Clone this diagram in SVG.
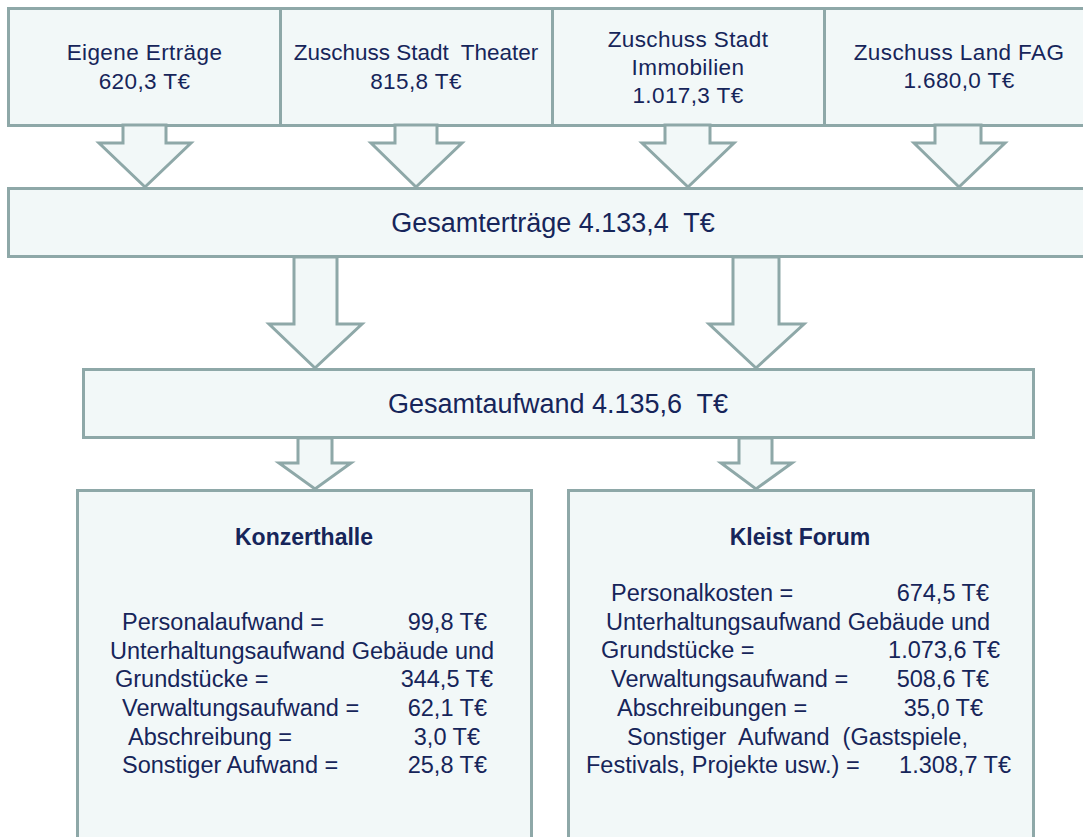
<svg xmlns="http://www.w3.org/2000/svg" width="1083" height="837" viewBox="0 0 1083 837">
<style>
.box{fill:#f2f8f8;stroke:#8ea8a8;stroke-width:3}
.arr{fill:#f2f8f8;stroke:#8ea8a8;stroke-width:3;stroke-linejoin:miter}
text{font-family:"Liberation Sans",Arial,sans-serif;fill:#16255a}
.t{font-size:22.5px;letter-spacing:0.4px;text-anchor:middle}
.n{letter-spacing:0}
.g{font-size:27px;text-anchor:middle}
.h{font-size:23px;font-weight:bold;text-anchor:middle}
.b{font-size:23.5px}
.e{text-anchor:end}
</style>
<rect width="1083" height="837" fill="#ffffff"/>
<g id="eigene">
<rect class="box" x="8.5" y="8.5" width="272" height="117"/>
<text class="t" x="144.5" y="60">Eigene Erträge</text>
<text class="t" x="144.5" y="89">620,3 T€</text>
</g>
<g id="theater">
<rect class="box" x="280.5" y="8.5" width="272" height="117"/>
<text class="t n" x="416" y="60" xml:space="preserve">Zuschuss Stadt  Theater</text>
<text class="t" x="416" y="89">815,8 T€</text>
</g>
<g id="immobilien">
<rect class="box" x="552.5" y="8.5" width="272" height="117"/>
<text class="t" x="688" y="47">Zuschuss Stadt</text>
<text class="t" x="688" y="75">Immobilien</text>
<text class="t" x="688" y="103">1.017,3 T€</text>
</g>
<g id="land">
<rect class="box" x="824.5" y="8.5" width="280" height="117"/>
<text class="t" x="959" y="60">Zuschuss Land FAG</text>
<text class="t" x="959" y="88">1.680,0 T€</text>
</g>
<g id="gesamtertraege">
<rect class="box" x="8.5" y="188.5" width="1090" height="68"/>
<text class="g" x="553" y="232" xml:space="preserve">Gesamterträge 4.133,4  T€</text>
</g>
<g id="gesamtaufwand">
<rect class="box" x="83.5" y="369.5" width="950" height="68"/>
<text class="g" x="558" y="413" xml:space="preserve">Gesamtaufwand 4.135,6  T€</text>
</g>
<g id="konzerthalle">
<rect class="box" x="77.5" y="490.5" width="454" height="360"/>
<text class="h" x="304" y="545">Konzerthalle</text>
<text class="b" x="122" y="630">Personalaufwand =</text>
<text class="b e" x="487" y="630">99,8 T€</text>
<text class="b" x="110" y="659">Unterhaltungsaufwand Gebäude und</text>
<text class="b" x="115" y="687">Grundstücke =</text>
<text class="b e" x="493" y="687">344,5 T€</text>
<text class="b" x="122" y="716">Verwaltungsaufwand =</text>
<text class="b e" x="487" y="716">62,1 T€</text>
<text class="b" x="128" y="745">Abschreibung =</text>
<text class="b e" x="480" y="745">3,0 T€</text>
<text class="b" x="122" y="773">Sonstiger Aufwand =</text>
<text class="b e" x="487" y="773">25,8 T€</text>
</g>
<g id="kleistforum">
<rect class="box" x="568.5" y="490.5" width="465" height="360"/>
<text class="h" x="800" y="545">Kleist Forum</text>
<text class="b" x="611" y="601">Personalkosten =</text>
<text class="b e" x="989" y="601">674,5 T€</text>
<text class="b" x="606" y="630">Unterhaltungsaufwand Gebäude und</text>
<text class="b" x="601" y="658">Grundstücke =</text>
<text class="b e" x="1000" y="658">1.073,6 T€</text>
<text class="b" x="611" y="687">Verwaltungsaufwand =</text>
<text class="b e" x="989" y="687">508,6 T€</text>
<text class="b" x="617" y="716">Abschreibungen =</text>
<text class="b e" x="983" y="716">35,0 T€</text>
<text class="b" x="627" y="745" xml:space="preserve">Sonstiger  Aufwand  (Gastspiele,</text>
<text class="b" x="586" y="773">Festivals, Projekte usw.) =</text>
<text class="b e" x="1011" y="773">1.308,7 T€</text>
</g>
<g id="connectors">
<polygon class="arr" points="123,125 123,143 99,143 145,187 191,143 166,143 166,125"/>
<polygon class="arr" points="395,125 395,143 371,143 416,187 462,143 437,143 437,125"/>
<polygon class="arr" points="665,125 665,143 642,143 688,187 734,143 710,143 710,125"/>
<polygon class="arr" points="935,125 935,143 914,143 959,187 1005,143 981,143 981,125"/>
<polygon class="arr" points="294,257 294,324 269,324 315,368 362,324 337,324 337,257"/>
<polygon class="arr" points="733,257 733,324 709,324 756,368 804,324 779,324 779,257"/>
<polygon class="arr" points="298,438 298,463 279,463 315,489 351,463 332,463 332,438"/>
<polygon class="arr" points="739,438 739,463 721,463 756,489 792,463 772,463 772,438"/>
</g>
</svg>
